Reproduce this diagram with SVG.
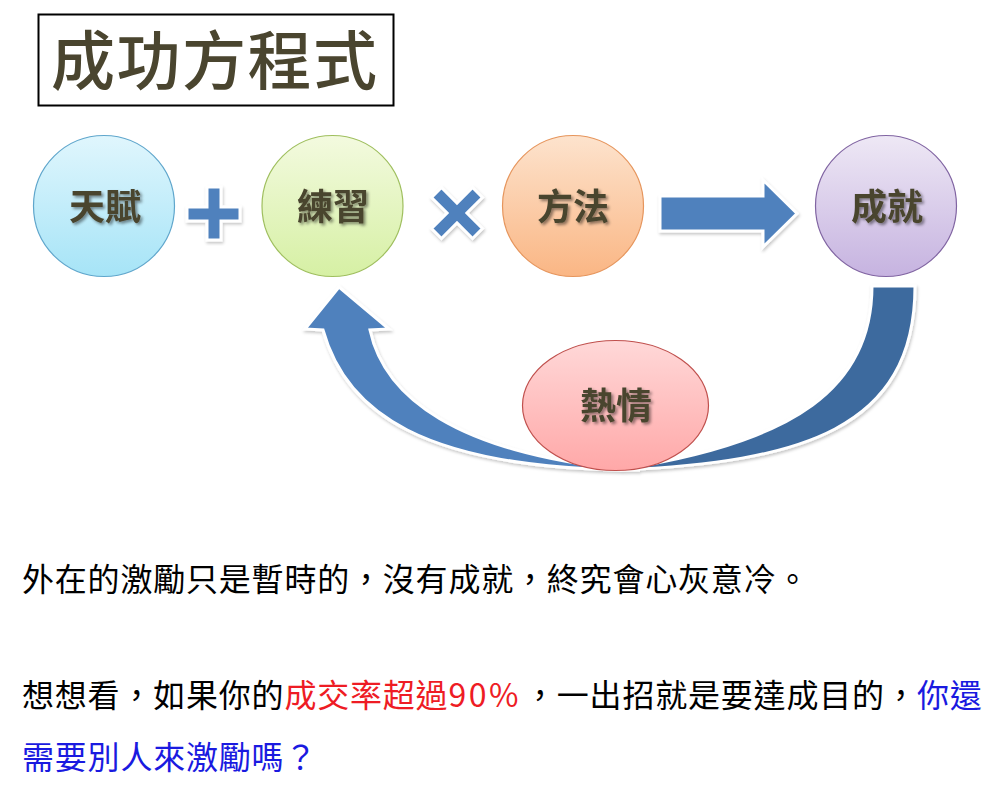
<svg xmlns="http://www.w3.org/2000/svg" width="1003" height="800" viewBox="0 0 1003 800">
  <defs>
    <linearGradient id="gBlue" x1="0" y1="0" x2="0" y2="1">
      <stop offset="0" stop-color="#e0f6fd"/>
      <stop offset="1" stop-color="#a6e4f7"/>
    </linearGradient>
    <linearGradient id="gGreen" x1="0" y1="0" x2="0" y2="1">
      <stop offset="0" stop-color="#f3fadf"/>
      <stop offset="1" stop-color="#d6f0a4"/>
    </linearGradient>
    <linearGradient id="gOrange" x1="0" y1="0" x2="0" y2="1">
      <stop offset="0" stop-color="#fde3cd"/>
      <stop offset="1" stop-color="#fab684"/>
    </linearGradient>
    <linearGradient id="gPurple" x1="0" y1="0" x2="0" y2="1">
      <stop offset="0" stop-color="#eee8f5"/>
      <stop offset="1" stop-color="#c6b3e0"/>
    </linearGradient>
    <linearGradient id="gRed" x1="0" y1="0" x2="0" y2="1">
      <stop offset="0" stop-color="#ffd8d8"/>
      <stop offset="1" stop-color="#ffa8a8"/>
    </linearGradient>
    <filter id="txtShadow" x="-20%" y="-20%" width="140%" height="140%">
      <feDropShadow dx="2" dy="2" stdDeviation="1.5" flood-color="#000" flood-opacity="0.45"/>
    </filter>
    <filter id="shpShadow" x="-10%" y="-10%" width="120%" height="120%">
      <feDropShadow dx="1" dy="2" stdDeviation="1.5" flood-color="#000" flood-opacity="0.22"/>
    </filter>
  </defs>
  <style>
    .lbl { font-family: "Noto Sans CJK TC", "Noto Sans CJK SC", sans-serif; font-size: 36px; font-weight: bold; fill: #4a452f; text-anchor: middle; }
    .title { font-family: "Noto Sans CJK TC", "Noto Sans CJK SC", sans-serif; font-size: 64px; font-weight: 500; fill: #4a452f; letter-spacing: 1.5px; }
    .body { font-family: "Noto Sans CJK TC", "Noto Sans CJK SC", sans-serif; font-size: 32px; fill: #000; letter-spacing: 0.8px; }
    .red { fill: #ee1c24; }
    .blue { fill: #1a1ae0; }
    .op { fill: #4f81bd; stroke: #ffffff; stroke-width: 3; stroke-linejoin: miter; }
    .node { stroke-width: 1.2; }
  </style>
  <rect width="1003" height="800" fill="#ffffff"/>

  <g id="title">
    <rect x="38.5" y="14.5" width="355" height="91" fill="#ffffff" stroke="#000000" stroke-width="2"/>
    <text class="title" x="51" y="84">成功方程式</text>
  </g>

  <g id="connectors">
    <g id="curved-arrow" filter="url(#shpShadow)">
      <path id="curve-back" d="M 915,286 C 915,430 800,462 620,470 L 640,466 C 790,440 872,390 872,286 Z" fill="#3e6a9e" stroke="#ffffff" stroke-width="3" stroke-linejoin="miter"/>
      <path id="curve-front" d="M 640,470 C 420,470 345,410 323,330 L 305,329 L 339,287 L 389,329 L 370,330 C 385,400 460,450 610,468 Z" fill="#4f81bd" stroke="#ffffff" stroke-width="3" stroke-linejoin="miter"/>
    </g>
    <g id="plus" filter="url(#shpShadow)">
      <path class="op" d="M 207,187 H 221 V 207 H 240 V 221 H 221 V 240 H 207 V 221 H 187 V 207 H 207 Z"/>
    </g>
    <g id="times" filter="url(#shpShadow)">
      <path class="op" transform="translate(457,213) rotate(45)" d="M -7,-29 H 7 V -7 H 29 V 7 H 7 V 29 H -7 V 7 H -29 V -7 H -7 Z"/>
    </g>
    <g id="right-arrow" filter="url(#shpShadow)">
      <path class="op" d="M 660,196 H 763 V 180 L 797,213.5 L 763,247 V 231 H 660 Z"/>
    </g>
  </g>

  <g id="node-tianfu">
    <circle class="node" cx="104" cy="206" r="70.5" fill="url(#gBlue)" stroke="#5fa6cc"/>
    <text class="lbl" x="105" y="220" filter="url(#txtShadow)">天賦</text>
  </g>
  <g id="node-lianxi">
    <circle class="node" cx="332.5" cy="206" r="70.5" fill="url(#gGreen)" stroke="#9fbf5e"/>
    <text class="lbl" x="333" y="220" filter="url(#txtShadow)">練習</text>
  </g>
  <g id="node-fangfa">
    <circle class="node" cx="573" cy="206" r="70.5" fill="url(#gOrange)" stroke="#e6955c"/>
    <text class="lbl" x="573" y="220" filter="url(#txtShadow)">方法</text>
  </g>
  <g id="node-chengjiu">
    <circle class="node" cx="886" cy="206" r="70.5" fill="url(#gPurple)" stroke="#8064a2"/>
    <text class="lbl" x="887" y="220" filter="url(#txtShadow)">成就</text>
  </g>
  <g id="node-reqing">
    <ellipse class="node" cx="615.5" cy="405.5" rx="93" ry="65" fill="url(#gRed)" stroke="#c0504d"/>
    <text class="lbl" x="616" y="419" filter="url(#txtShadow)">熱情</text>
  </g>

  <g id="caption">
    <text class="body" x="22" y="591">外在的激勵只是暫時的，沒有成就，終究會心灰意冷。</text>
    <text class="body" x="22" y="707">想想看，如果你的<tspan class="red">成交率超過<tspan letter-spacing="2.5">90%</tspan></tspan><tspan x="524">，一出招就是要達成目的，</tspan><tspan class="blue" x="917">你還</tspan></text>
    <text class="body blue" x="22" y="769">需要別人來激勵嗎？</text>
  </g>
</svg>
